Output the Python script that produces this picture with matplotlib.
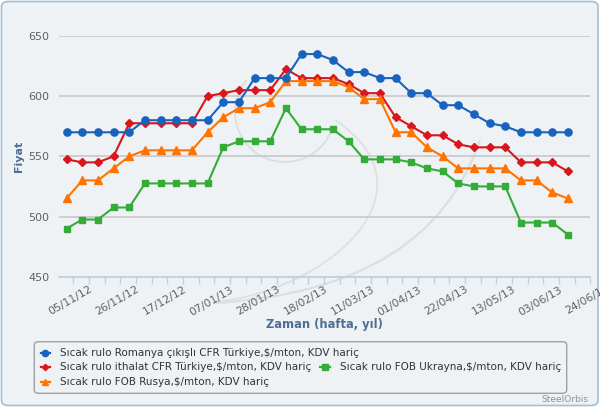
import pandas as pd
import numpy as np
import matplotlib
matplotlib.use("Agg")
import matplotlib.pyplot as plt
from matplotlib.patches import FancyBboxPatch, Arc, PathPatch
from matplotlib.path import Path
from matplotlib.lines import Line2D

plt.rcParams['font.family'] = ['DejaVu Sans']

# weekly price observations
dates = pd.date_range('2012-10-26', periods=33, freq='7D')

romanya = [570, 570, 570, 570, 570, 580, 580, 580, 580, 580, 595, 595, 615, 615, 615, 635, 635,
           630, 620, 620, 615, 615, 602.5, 602.5, 592.5, 592.5, 585, 577.5, 575, 570, 570, 570, 570]
ithalat = [547.5, 545, 545, 550, 577.5, 577.5, 577.5, 577.5, 577.5, 600, 602.5, 605, 605, 605, 622.5, 615, 615,
           615, 610, 602.5, 602.5, 582.5, 575, 567.5, 567.5, 560, 557.5, 557.5, 557.5, 545, 545, 545, 537.5]
ukrayna = [490, 497.5, 497.5, 507.5, 507.5, 527.5, 527.5, 527.5, 527.5, 527.5, 557.5, 562.5, 562.5, 562.5, 590, 572.5, 572.5,
           572.5, 562.5, 547.5, 547.5, 547.5, 545, 540, 537.5, 527.5, 525, 525, 525, 495, 495, 495, 485]
rusya = [515, 530, 530, 540, 550, 555, 555, 555, 555, 570, 582.5, 590, 590, 595, 612.5, 612.5, 612.5,
         612.5, 607.5, 597.5, 597.5, 570, 570, 557.5, 550, 540, 540, 540, 540, 530, 530, 520, 515]

labels = ['Sıcak rulo Romanya çıkışlı CFR Türkiye,$/mton, KDV hariç',
          'Sıcak rulo ithalat CFR Türkiye,$/mton, KDV hariç',
          'Sıcak rulo FOB Ukrayna,$/mton, KDV hariç',
          'Sıcak rulo FOB Rusya,$/mton, KDV hariç']

tick_dates = pd.date_range('2012-10-29', '2013-06-17', freq='7D')

W, H = 600, 408
fig = plt.figure(figsize=(6, 4.08), dpi=100)
fig.patch.set_facecolor('white')

def px(x, y):
    return x / W, 1 - y / H

def disp(x, y):
    return (x, H - y)

# chart frame
frame = FancyBboxPatch(px(1.5, 405.5), 596.5 / W, 404 / H, boxstyle='round,pad=0,rounding_size=0.012',
                       transform=fig.transFigure, facecolor='#eef2f5', edgecolor='#a4bed4', lw=1.2, zorder=-2)
fig.patches.append(frame)

# watermark swoosh (display pixels)
wm = '#dcdfe2'
fig.patches.append(Arc(disp(285, 112), 100, 100, theta1=140, theta2=343, transform=None,
                       color=wm, lw=1.4, zorder=-1))
outer = Path([disp(215, 303), disp(430, 290), disp(480, 140)], [Path.MOVETO, Path.CURVE3, Path.CURVE3])
inner = Path([disp(215, 302), disp(330, 290), disp(440, 190), disp(335, 120)],
             [Path.MOVETO, Path.CURVE4, Path.CURVE4, Path.CURVE4])
fig.patches.append(PathPatch(outer, transform=None, fill=False, edgecolor=wm, lw=1.6, zorder=-1))
fig.patches.append(PathPatch(inner, transform=None, fill=False, edgecolor=wm, lw=1.2, zorder=-1))

l, b = px(59.3, 276.7)
r, t = px(590.3, 36)
ax = fig.add_axes([l, b, r - l, t - b])
ax.set_facecolor('none')
ax.set_zorder(1)

colors = {'blue': '#1863bd', 'red': '#d8161d', 'green': '#35ac37', 'orange': '#ff7400'}

ax.plot(dates, romanya, color=colors['blue'], lw=1.5, marker='o', ms=5.2, zorder=5)
ax.plot(dates, ithalat, color=colors['red'], lw=1.5, marker='D', ms=3.6, zorder=4)
ax.plot(dates, ukrayna, color=colors['green'], lw=1.5, marker='s', ms=4.6, zorder=3)
ax.plot(dates, rusya, color=colors['orange'], lw=1.5, marker='^', ms=5.2, zorder=4)

ax.set_ylim(450, 650)
ax.set_yticks([450, 500, 550, 600, 650])
ax.set_xlim(pd.Timestamp('2012-10-22 18:00'), pd.Timestamp('2013-06-17'))
ax.yaxis.grid(True, color='#c4c4c4', lw=1.1)
ax.set_axisbelow(True)
for s in ['top', 'right', 'left']:
    ax.spines[s].set_visible(False)
ax.spines['bottom'].set_color('#c0d0e0')
ax.spines['bottom'].set_linewidth(1.2)

ax.set_xticks(tick_dates)
tick_txt = [d.strftime('%d/%m/%y') if (i - 1) % 3 == 0 else '' for i, d in enumerate(tick_dates)]
ax.set_xticklabels(tick_txt, rotation=30, ha='right', va='top', rotation_mode='anchor',
                   fontsize=7.8, color='#606060')
ax.tick_params(axis='x', length=5, color='#c0d0e0', width=1, pad=0.5)
ax.tick_params(axis='y', length=0, labelsize=8, labelcolor='#606060', pad=7)
for lab in ax.get_xticklabels():
    lab.set_x(lab.get_position()[0])

# label past the axis end, clipped by the image edge
ax.annotate('24/06/13', xy=(pd.Timestamp('2013-06-24'), 0), xycoords=('data', 'axes fraction'),
            xytext=(0, -4.1), textcoords='offset points', rotation=30, ha='right', va='top',
            rotation_mode='anchor', fontsize=7.8, color='#606060', annotation_clip=False)

ax.text(-0.075, 0.5, 'Fiyat', transform=ax.transAxes, rotation=90, ha='center', va='center',
        fontsize=8, fontweight='bold', color='#4d6f93')
fig.text(*px(324.8, 324.5), 'Zaman (hafta, yıl)', ha='center', va='center', fontsize=8.3,
         fontweight='bold', color='#4d6f93')

# legend
leg = FancyBboxPatch(px(34.3, 393.3), (566.7 - 34.3) / W, (393.3 - 341.7) / H,
                     boxstyle='round,pad=0,rounding_size=0.008', transform=fig.transFigure,
                     facecolor='none', edgecolor='#a0a0a0', lw=1)
fig.patches.append(leg)

def leg_item(x, y, color, marker, ms, text):
    x0, yy = px(x, y)
    x1, _ = px(x + 9.5, y)
    fig.add_artist(Line2D([x0, x1], [yy, yy], transform=fig.transFigure, color=color, lw=1.6))
    fig.add_artist(Line2D([(x0 + x1) / 2], [yy], transform=fig.transFigure, color=color,
                          marker=marker, ms=ms, lw=0))
    fig.text(*px(x + 19.5, y), text, ha='left', va='center', fontsize=7.5, color='#333333')

leg_item(40.7, 353.3, colors['blue'], 'o', 4.5, labels[0])
leg_item(40.7, 367.3, colors['red'], 'D', 3.2, labels[1])
leg_item(320.0, 367.3, colors['green'], 's', 4.0, labels[2])
leg_item(40.7, 381.7, colors['orange'], '^', 4.5, labels[3])

fig.text(*px(588.5, 400), 'SteelOrbis', ha='right', va='center', fontsize=6.5, color='#909090')

fig.savefig('out.png', dpi=100, facecolor='white')
